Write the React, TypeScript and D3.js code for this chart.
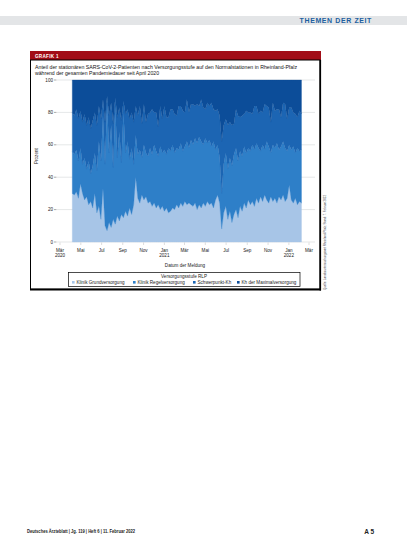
import React from 'react';
import * as d3 from 'd3';

// ---- data (share in %, sampled every 6 days from 6 April 2020) ----
const START = new Date(2020, 3, 6);
const STEP_DAYS = 6;

const grund = [30,29,31,27,36,30,26,28,23,25,21,30,18,22,14,33,10,7,12,9,14,11,16,13,17,15,19,16,21,17,23,40,27,24,29,26,28,24,25,22,24,21,23,20,22,19,21,18,19,21,20,23,21,24,22,25,23,24,23,22,24,20,23,21,24,22,25,23,24,21,26,29,24,8,18,22,14,19,12,17,20,15,22,19,24,21,26,23,25,22,27,24,28,25,29,26,24,28,25,27,24,28,26,29,25,27,35,26,24,27,23,25,24];
const regel = [26,25,26,23,22,18,26,17,27,17,26,25,26,40,36,45,38,79,43,63,32,73,36,55,32,65,36,46,30,41,25,26,27,33,23,34,27,29,33,32,36,35,30,39,33,38,33,40,37,39,35,35,36,37,34,34,39,34,40,38,40,41,42,41,36,42,36,40,35,41,31,31,28,22,30,33,31,33,35,37,38,35,34,34,35,34,32,33,35,35,34,34,28,35,28,36,35,27,35,31,37,29,33,33,33,29,25,31,35,28,35,31,33];
const schwer = [24,24,25,26,23,26,27,27,27,28,28,25,28,22,26,10,26,4,23,14,27,5,25,15,26,7,24,20,25,22,26,18,24,27,21,25,19,26,22,28,20,24,18,25,21,27,23,19,26,22,24,20,27,23,25,21,26,22,22,25,20,24,19,26,23,18,25,21,27,20,24,22,26,32,24,21,27,22,25,19,24,28,21,25,20,26,22,24,19,27,23,21,25,20,28,22,24,19,26,23,21,25,18,24,27,20,23,26,21,24,19,25,22];
const maxv = [20,22,18,24,19,26,21,28,23,30,25,20,28,16,24,12,26,10,22,14,27,11,23,17,25,13,21,18,24,20,26,16,22,16,27,15,26,21,20,18,20,20,29,16,24,16,23,23,18,18,21,22,16,16,19,20,12,20,15,15,16,15,16,12,17,18,14,16,14,18,19,18,22,38,28,24,28,26,28,27,18,22,23,22,21,19,20,20,21,16,16,21,19,20,15,16,17,26,14,19,18,18,23,14,15,24,17,17,20,21,23,19,21];

const seriesKeys = ['grund', 'regel', 'schwer', 'max'];
const seriesLabels = ['Klinik Grundversorgung', 'Klinik Regelversorgung', 'Schwerpunkt-Kh', 'Kh der Maximalversorgung'];
const seriesColors = ['#a7c5e7', '#2e7fc8', '#1c65b3', '#0c4d99'];

const yTicks = [0, 20, 40, 60, 80, 100];
const xTickDates = [
  new Date(2020, 2, 1), new Date(2020, 4, 1), new Date(2020, 6, 1), new Date(2020, 8, 1),
  new Date(2020, 10, 1), new Date(2021, 0, 1), new Date(2021, 2, 1), new Date(2021, 4, 1),
  new Date(2021, 6, 1), new Date(2021, 8, 1), new Date(2021, 10, 1), new Date(2022, 0, 1),
  new Date(2022, 2, 1),
];
const xTickLabels = ['Mär', 'Mai', 'Jul', 'Sep', 'Nov', 'Jan', 'Mär', 'Mai', 'Jul', 'Sep', 'Nov', 'Jan', 'Mär'];
const xTickYears = ['2020', '', '', '', '', '2021', '', '', '', '', '', '2022', ''];

const FONT = '"Liberation Sans Narrow", "Liberation Sans", Arial, sans-serif';

export default function App() {
  const rows = grund.map((g, i) => ({
    date: d3.timeDay.offset(START, i * STEP_DAYS),
    grund: g,
    regel: regel[i],
    schwer: schwer[i],
    max: maxv[i],
  }));

  const x = d3.scaleTime().domain([new Date(2020, 2, 1), new Date(2022, 2, 1)]).range([60, 309]);
  const y = d3.scaleLinear().domain([0, 100]).range([242, 80]);

  const stack = d3.stack<any>().keys(seriesKeys);
  const layers = stack(rows);
  const area = d3
    .area<any>()
    .x((d) => x(d.data.date))
    .y0((d) => y(d[0]))
    .y1((d) => y(d[1]))
    .curve(d3.curveLinear);

  const legendX = [72, 133, 193, 237];

  return (
    <svg
      width={407}
      height={551}
      style={{ position: 'absolute', left: 0, top: 0, background: '#fff' }}
      fontFamily={FONT}
    >
      {/* page header */}
      <rect x={0} y={16} width={407} height={9} fill="#e3e5e7" />
      <text x={372} y={23.3} textAnchor="end" fontSize={7} fontWeight="bold" fill="#1d5f9f" letterSpacing={0.6}>
        THEMEN DER ZEIT
      </text>

      {/* graphic header bar */}
      <rect x={30} y={51} width={291} height={9} fill="#a20d17" />
      <text x={35} y={57.8} fontSize={4.6} fontWeight="bold" fill="#fff" letterSpacing={0.3}>
        GRAFIK 1
      </text>

      {/* frame */}
      <rect x={30.5} y={60} width={289.5} height={229} fill="#fff" stroke="#000" strokeWidth={1} />
      <line x1={320.3} y1={60} x2={320.3} y2={290.5} stroke="#000" strokeWidth={1.6} />
      <line x1={30} y1={289.6} x2={321} y2={289.6} stroke="#000" strokeWidth={1.6} />

      {/* title */}
      <text x={35} y={69} fontSize={5} fill="#111" textLength={262} lengthAdjust="spacingAndGlyphs">
        Anteil der stationären SARS-CoV-2-Patienten nach Versorgungsstufe auf den Normalstationen in Rheinland-Pfalz
      </text>
      <text x={35} y={75} fontSize={5} fill="#111" textLength={124} lengthAdjust="spacingAndGlyphs">
        während der gesamten Pandemiedauer seit April 2020
      </text>

      {/* gridlines */}
      {yTicks.map((t) => (
        <line key={'g' + t} x1={57} x2={315} y1={y(t)} y2={y(t)} stroke="#d4d6d8" strokeWidth={0.6} />
      ))}

      {/* stacked areas */}
      {layers.map((layer, i) => (
        <path key={seriesKeys[i]} d={area(layer) || ''} fill={seriesColors[i]} stroke={seriesColors[i]} strokeWidth={0.3} />
      ))}

      {/* y axis */}
      {yTicks.map((t) => (
        <g key={'y' + t}>
          <text x={53} y={y(t) + 1.6} textAnchor="end" fontSize={4.6} fill="#222">
            {t}
          </text>
          <line x1={54} x2={56.5} y1={y(t)} y2={y(t)} stroke="#555" strokeWidth={0.5} />
        </g>
      ))}
      <text
        transform={`translate(37.5,${y(53)}) rotate(-90)`}
        textAnchor="middle"
        fontSize={4.6}
        fill="#222"
      >
        Prozent
      </text>

      {/* x axis */}
      {xTickDates.map((d, i) => (
        <g key={'x' + i}>
          <line x1={x(d)} x2={x(d)} y1={242.5} y2={245} stroke="#bbb" strokeWidth={0.5} />
          <text x={x(d)} y={251.5} textAnchor="middle" fontSize={4.6} fill="#222">
            {xTickLabels[i]}
          </text>
          {xTickYears[i] && (
            <text x={x(d)} y={257} textAnchor="middle" fontSize={4.6} fill="#222">
              {xTickYears[i]}
            </text>
          )}
        </g>
      ))}
      <text x={185} y={267} textAnchor="middle" fontSize={4.6} fill="#222">
        Datum der Meldung
      </text>

      {/* legend */}
      <rect x={68.5} y={272.5} width={231.5} height={14} fill="none" stroke="#000" strokeWidth={0.7} />
      <text x={184} y={277.5} textAnchor="middle" fontSize={4.6} fill="#222">
        Versorgungsstufe RLP
      </text>
      {seriesLabels.map((lab, i) => (
        <g key={'l' + i}>
          <rect x={legendX[i]} y={281} width={2.6} height={2.6} fill={seriesColors[i]} />
          <text x={legendX[i] + 4.5} y={283.7} fontSize={4.6} fill="#222">
            {lab}
          </text>
        </g>
      ))}

      {/* source, rotated */}
      <text
        transform="translate(326,290) rotate(-90)"
        fontSize={3.2}
        fill="#444"
        textLength={95}
        lengthAdjust="spacingAndGlyphs"
      >
        Quelle: Landesuntersuchungsamt Rheinland-Pfalz; Stand: 7. Februar 2022
      </text>

      {/* footer */}
      <text x={27} y={533} fontSize={4.6} fontWeight="bold" fill="#222" textLength={108} lengthAdjust="spacingAndGlyphs">
        Deutsches Ärzteblatt | Jg. 119 | Heft 6 | 11. Februar 2022
      </text>
      <text x={374} y={533.5} textAnchor="end" fontSize={6.5} fontWeight="bold" fill="#222">
        A 5
      </text>
    </svg>
  );
}
